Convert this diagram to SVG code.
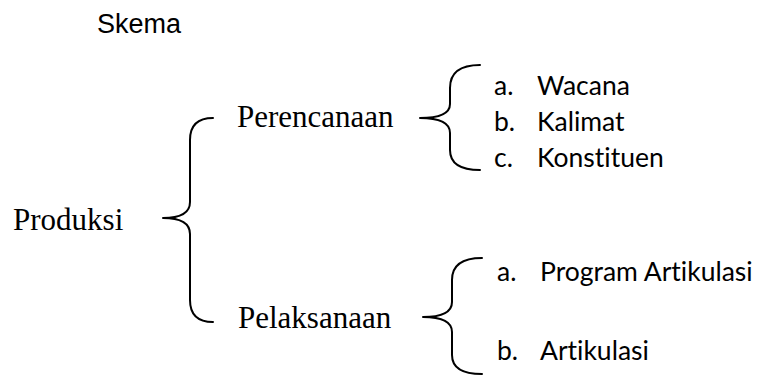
<svg xmlns="http://www.w3.org/2000/svg" width="760" height="376" viewBox="0 0 760 376">
<style>
.title{font-family:"Liberation Sans",Arial,sans-serif;font-size:27px;fill:#000}
.serif{font-family:"Liberation Serif","Times New Roman",serif;font-size:31px;fill:#000}
.item{font-family:Lato,"Open Sans",sans-serif;font-size:26.5px;fill:#000;font-variant-ligatures:none;font-feature-settings:"liga" 0}
.brace{fill:none;stroke:#000;stroke-width:2;stroke-linecap:round;stroke-linejoin:round}
</style>
<rect width="760" height="376" fill="#fff"/>
<text class="title" x="97" y="33">Skema</text>
<g id="produksi"><text class="serif" x="13" y="230">Produksi</text></g>
<g id="perencanaan"><text class="serif" x="237" y="127">Perencanaan</text></g>
<g id="pelaksanaan"><text class="serif" x="238" y="328">Pelaksanaan</text></g>
<g id="perencanaan-items">
<text class="item" x="494" y="95">a.</text><text class="item" x="537" y="95">Wacana</text>
<text class="item" x="494" y="131">b.</text><text class="item" x="537" y="131">Kalimat</text>
<text class="item" x="494" y="167">c.</text><text class="item" x="537" y="167">Konstituen</text>
</g>
<g id="pelaksanaan-items">
<text class="item" x="497" y="281">a.</text><text class="item" x="540" y="281">Program Artikulasi</text>
<text class="item" x="497" y="360">b.</text><text class="item" x="540" y="360">Artikulasi</text>
</g>
<g id="connectors">
<path class="brace" d="M213,118 C197,118 190,126 190,140 L190,202 C190,212 182,218 163,218 C182,218 190,224 190,234 L190,300 C190,314 197,322 213,322"/>
<path class="brace" d="M480,65 C460,65 450,72 450,88 L450,104 C450,113 440,118 420,118 C440,118 450,123 450,133 L450,150 C450,163 460,170 480,170"/>
<path class="brace" d="M482,258 C462,258 452,265 452,280 L452,302 C452,311 443,317 423,317 C443,317 452,323 452,332 L452,355 C452,367 462,374 482,374"/>
</g>
</svg>
